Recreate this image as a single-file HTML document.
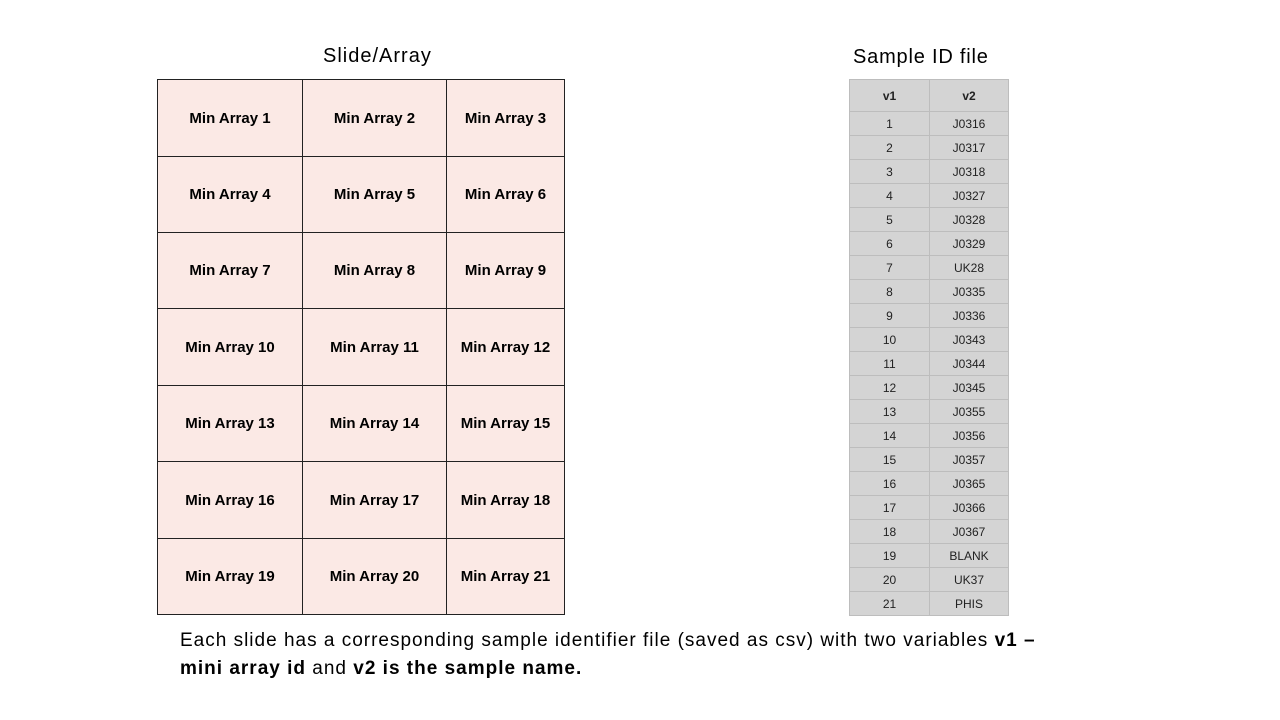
<!DOCTYPE html>
<html><head><meta charset="utf-8"><style>
body{margin:0;width:1280px;height:720px;background:#fff;position:relative;font-family:"Liberation Sans",sans-serif;overflow:hidden}
.t{position:absolute;color:#000}
.c{position:absolute;background:#fbe9e5;border:1px solid #222;box-sizing:border-box;display:flex;align-items:center;justify-content:center;font-weight:bold;font-size:15px}
.s{position:absolute;background:#d4d4d4;border:1px solid #bdbdbd;box-sizing:border-box;display:flex;align-items:center;justify-content:center;font-size:12px;color:#222}
</style></head><body>
<div class="t" style="left:323px;top:45px;font-size:20px;letter-spacing:1px">Slide/Array</div>
<div class="t" style="left:853px;top:46px;font-size:20px;letter-spacing:0.8px">Sample ID file</div>
<div id="g"></div>
<div class="t" style="left:180px;top:627px;font-size:19px;line-height:28px;width:920px;letter-spacing:1px">Each slide has a corresponding sample identifier file (saved as csv) with two variables <b>v1 –<br>mini array id</b> and <b>v2 is the sample name.</b></div>
<script>
var xs=[157,302,446,564],ys=[79,156,232,308,385,461,538,614],h='';
var n=1;
for(var r=0;r<7;r++)for(var c=0;c<3;c++){h+='<div class="c" style="left:'+xs[c]+'px;top:'+ys[r]+'px;width:'+(xs[c+1]-xs[c]+1)+'px;height:'+(ys[r+1]-ys[r]+1)+'px">Min Array '+(n++)+'</div>';}
var v=['J0316','J0317','J0318','J0327','J0328','J0329','UK28','J0335','J0336','J0343','J0344','J0345','J0355','J0356','J0357','J0365','J0366','J0367','BLANK','UK37','PHIS'];
h+='<div class="s" style="left:849px;top:79px;width:81px;height:33px;font-weight:bold">v1</div><div class="s" style="left:929px;top:79px;width:80px;height:33px;font-weight:bold">v2</div>';
for(var i=0;i<21;i++){var y=111+i*24;h+='<div class="s" style="left:849px;top:'+y+'px;width:81px;height:25px">'+(i+1)+'</div><div class="s" style="left:929px;top:'+y+'px;width:80px;height:25px">'+v[i]+'</div>';}
document.getElementById('g').innerHTML=h;
</script>
</body></html>
